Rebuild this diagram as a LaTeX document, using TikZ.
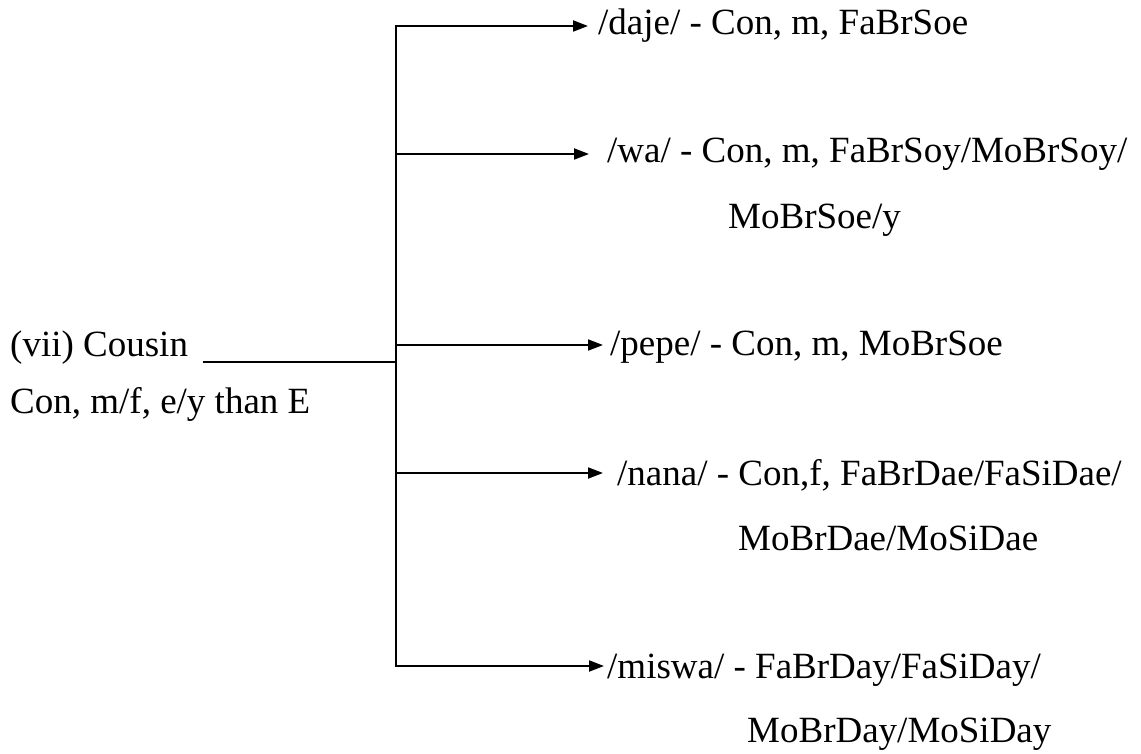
\documentclass[tikz,border=0pt]{standalone}
\usepackage{fontspec}
\setmainfont{Liberation Serif}
\usetikzlibrary{arrows.meta}
\begin{document}
\begin{tikzpicture}[x=1pt,y=-1pt,
  lbl/.style={anchor=base west,inner sep=0pt,font=\fontsize{37}{41}\selectfont},
  wire/.style={line width=2pt,line cap=rect},
  branch/.style={line width=2pt,-{Triangle[length=15pt,width=11pt]}}]
\useasboundingbox (0,0) rectangle (1141,754);

% root label
\node[lbl] (root)  at (10,356) {(vii) Cousin};
\node[lbl] (rootb) at (10,413) {Con, m/f, e/y than E};

% trunk
\coordinate (r0) at (204,362);
\coordinate (r1) at (396,362);
\coordinate (top) at (396,26);
\coordinate (bot) at (396,666);
\draw[wire] (r0) -- (r1);
\draw[wire] (top) -- (bot);

% branch labels
\node[lbl] (daje)  at (598,35)  {/daje/ - Con, m, FaBrSoe};
\node[lbl] (wa)    at (607,163) {/wa/ - Con, m, FaBrSoy/MoBrSoy/};
\node[lbl] (wa2)   at (728,229) {MoBrSoe/y};
\node[lbl] (pepe)  at (610,355) {/pepe/ - Con, m, MoBrSoe};
\node[lbl] (nana)  at (617,485) {/nana/ - Con,f, FaBrDae/FaSiDae/};
\node[lbl] (nana2) at (738,550) {MoBrDae/MoSiDae};
\node[lbl] (miswa) at (607,678) {/miswa/ - FaBrDay/FaSiDay/};
\node[lbl] (miswa2) at (747,742) {MoBrDay/MoSiDay};

% branch arrows
\coordinate (s1) at (396,26);  \coordinate (t1) at (588,26);
\coordinate (s2) at (396,154); \coordinate (t2) at (589,154);
\coordinate (s3) at (396,345); \coordinate (t3) at (603,345);
\coordinate (s4) at (396,473); \coordinate (t4) at (603,473);
\coordinate (s5) at (396,666); \coordinate (t5) at (604,666);
\draw[branch] (s1) -- (t1);
\draw[branch] (s2) -- (t2);
\draw[branch] (s3) -- (t3);
\draw[branch] (s4) -- (t4);
\draw[branch] (s5) -- (t5);
\end{tikzpicture}
\end{document}
